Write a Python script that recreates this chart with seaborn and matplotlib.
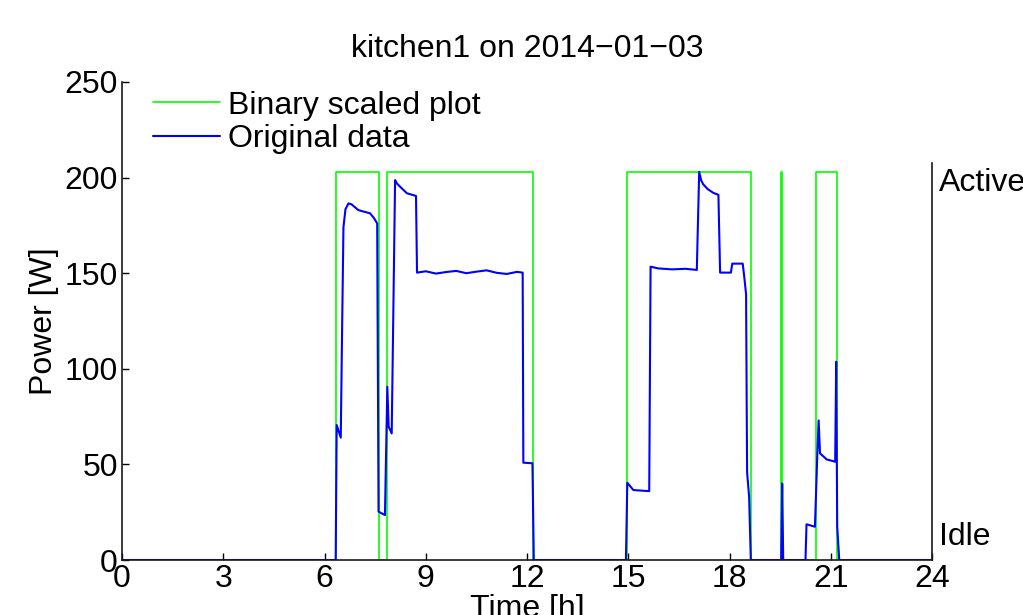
# plot.py
# Binary scaled activity plot of kitchen1 power on 2014-01-03.

import numpy as np
import matplotlib
matplotlib.use("Agg")
import matplotlib.pyplot as plt
import seaborn as sns


# Original power readings (hours, watts).
blue_time = [0.00, 6.33, 6.36, 6.48, 6.52, 6.56, 6.62, 6.71, 6.80, 7.00,
             7.35, 7.47, 7.56, 7.60, 7.79, 7.86, 7.90, 7.99, 8.09, 8.14,
             8.24, 8.44, 8.71, 8.74, 9.00, 9.30, 9.60, 9.90, 10.20, 10.50,
             10.80, 11.10, 11.40, 11.70, 11.87, 11.89, 12.16, 12.20, 14.93,
             14.97, 15.15, 15.62, 15.66, 15.89, 16.30, 16.70, 17.03, 17.10,
             17.16, 17.22, 17.35, 17.52, 17.67, 17.72, 18.04, 18.08, 18.39,
             18.43, 18.49, 18.51, 18.52, 18.58, 18.63, 19.53, 19.56, 19.59,
             20.25, 20.28, 20.53, 20.60, 20.64, 20.68, 20.88, 21.13, 21.16,
             21.19, 21.25, 24.00]
blue_power = [0.0, 0.0, 70.6, 64.0, 120.0, 174.0, 183.5, 186.5, 186.0,
              183.0, 181.3, 178.7, 176.0, 25.3, 23.5, 90.6, 69.7, 66.2,
              198.7, 197.0, 195.2, 191.8, 190.4, 150.3, 151.0, 149.8, 150.6,
              151.2, 150.0, 150.8, 151.5, 150.2, 149.6, 150.7, 150.3, 50.9,
              50.6, 0.0, 0.0, 40.4, 36.6, 36.0, 153.4, 152.5, 152.0, 152.3,
              151.7, 203.0, 198.5, 196.5, 194.0, 192.0, 191.0, 150.3, 150.3,
              155.0, 155.0, 149.0, 139.0, 75.0, 46.0, 33.0, 0.0, 0.0, 40.0,
              0.0, 0.0, 18.7, 17.4, 55.0, 73.0, 55.8, 52.6, 51.4, 103.7,
              17.4, 0.0, 0.0]

# Binary activity intervals (hours) and the level used for "Active".
active_start = [6.34, 7.84, 14.95, 19.535, 20.56]
active_end = [7.60, 12.17, 18.63, 19.545, 21.19]
active_level = 203.0

x_ticks = [0, 3, 6, 9, 12, 15, 18, 21, 24]
y_ticks = [0, 50, 100, 150, 200, 250]


# Build the step outline of the binary series.
green_time = [0.0]
green_power = [0.0]
for s, e in zip(active_start, active_end):
    green_time += [s, s, e, e]
    green_power += [0.0, active_level, active_level, 0.0]
green_time.append(24.0)
green_power.append(0.0)

# Style.
sns.set_style("ticks")
plt.rcParams["font.family"] = ["Liberation Sans", "DejaVu Sans"]
plt.rcParams["font.size"] = 23
plt.rcParams["text.color"] = "black"
plt.rcParams["axes.labelcolor"] = "black"
plt.rcParams["xtick.color"] = "black"
plt.rcParams["ytick.color"] = "black"
plt.rcParams["xtick.direction"] = "in"
plt.rcParams["ytick.direction"] = "in"

fig = plt.figure(figsize=(10.23, 6.15), dpi=100)
ax = fig.add_axes([0.1193, 0.0894, 0.7918, 0.7773])

sns.lineplot(x=green_time, y=green_power, ax=ax, estimator=None, sort=False,
             color="#00ff00", linewidth=1.2, label="Binary scaled plot")
sns.lineplot(x=blue_time, y=blue_power, ax=ax, estimator=None, sort=False,
             color="#0000ff", linewidth=1.5, label="Original data")

# Axis limits, ticks, spines.
ax.set_xlim(0, 24)
ax.set_ylim(0, 250)
ax.set_xticks(x_ticks)
ax.set_yticks(y_ticks)
ax.tick_params(labelsize=23, length=5, width=1, pad=3)
ax.spines["top"].set_visible(False)
ax.spines["right"].set_bounds(0, 207.6)
for side in ["left", "bottom", "right"]:
    ax.spines[side].set_color("0.1")
    ax.spines[side].set_linewidth(1.2)

# Labels.
ax.set_xlabel("Time [h]", fontsize=23, labelpad=0)
ax.set_ylabel("Power [W]", fontsize=23, labelpad=4)
ax.set_title("kitchen1 on 2014\u221201\u221203", fontsize=23, pad=18)

# State labels on the right.
ax.text(24.2, 197, "Active", fontsize=23, va="center", ha="left",
        clip_on=False)
ax.text(24.2, 12, "Idle", fontsize=23, va="center", ha="left",
        clip_on=False)

ax.legend(loc="upper left", frameon=False, fontsize=23, handlelength=2.1,
          handletextpad=0.25, labelspacing=0.12, borderaxespad=0,
          borderpad=0, bbox_to_anchor=(0.038, 0.982))

plt.savefig("out.png", dpi=100)
